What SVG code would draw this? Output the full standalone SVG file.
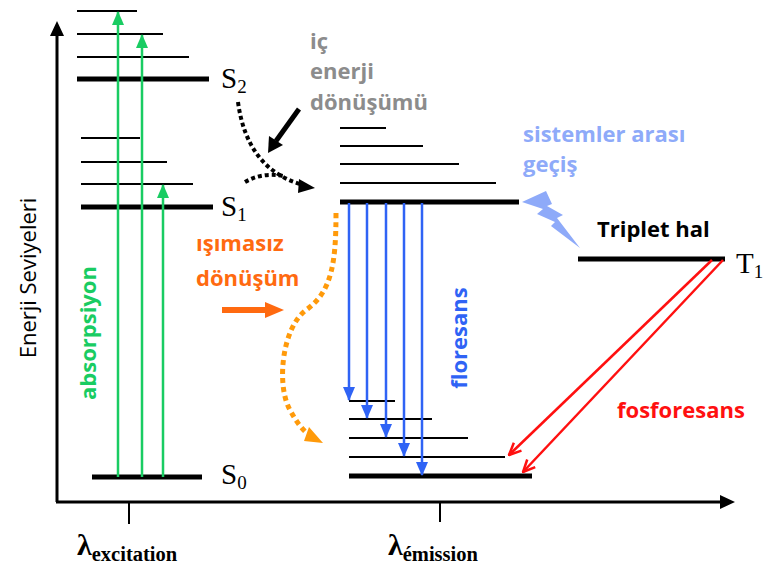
<svg xmlns="http://www.w3.org/2000/svg" width="765" height="569" viewBox="0 0 765 569">
  <style>
    .lv { stroke: #000; stroke-width: 2; }
    .lvb { stroke: #000; stroke-width: 5; }
    .ax { stroke: #000; stroke-width: 3; fill: none; }
    .serif { font-family: "Liberation Serif", "Times New Roman", serif; fill: #000; }
    .lbl { font-family: "Open Sans", "DejaVu Sans", sans-serif; font-weight: bold; font-size: 22px; }
    .green { stroke: #19cc62; stroke-width: 2.5; fill: none; }
    .blue { stroke: #2f63f5; stroke-width: 2.5; fill: none; }
    .red { stroke: #ff1010; stroke-width: 2.5; fill: none; }
  </style>
  <defs>
    <marker id="mGreen" markerUnits="userSpaceOnUse" markerWidth="14" markerHeight="14" viewBox="0 0 14 14" refX="13" refY="7" orient="auto">
      <path d="M0,1 L14,7 L0,13 Z" fill="#19cc62"/>
    </marker>
    <marker id="mBlue" markerUnits="userSpaceOnUse" markerWidth="14" markerHeight="14" viewBox="0 0 14 14" refX="13" refY="7" orient="auto">
      <path d="M0,1 L14,7 L0,13 Z" fill="#2f63f5"/>
    </marker>
    <marker id="mRed" markerUnits="userSpaceOnUse" markerWidth="14" markerHeight="14" viewBox="0 0 14 14" refX="13" refY="7" orient="auto">
      <path d="M1,1.5 L13,7 L1,12.5" fill="none" stroke="#ff1010" stroke-width="2.5"/>
    </marker>
  </defs>

  <!-- axes -->
  <g id="axes">
    <line class="ax" x1="57" y1="502" x2="57" y2="34"/>
    <path d="M50,36 L57,21 L64,36 Z" fill="#000"/>
    <line class="ax" x1="56" y1="502" x2="722" y2="502"/>
    <path d="M720,495 L735,502 L720,509 Z" fill="#000"/>
    <line x1="129" y1="502" x2="129" y2="524" stroke="#000" stroke-width="2"/>
    <line x1="440" y1="502" x2="440" y2="522" stroke="#000" stroke-width="2"/>
    <text class="serif" x="77" y="555" font-size="30" font-weight="bold">λ<tspan font-size="20.5" dy="6">excitation</tspan></text>
    <text class="serif" x="388" y="555" font-size="30" font-weight="bold">λ<tspan font-size="20.5" dy="6">émission</tspan></text>
    <text x="27" y="278" transform="rotate(-90 27 278)" text-anchor="middle" dominant-baseline="central" font-family="'Open Sans', 'DejaVu Sans', sans-serif" font-size="22" fill="#000">Enerji Seviyeleri</text>
  </g>

  <!-- S2 manifold -->
  <g id="S2">
    <line class="lv" x1="77" y1="11" x2="137" y2="11"/>
    <line class="lv" x1="77" y1="34" x2="163" y2="34"/>
    <line class="lv" x1="77" y1="57" x2="189" y2="57"/>
    <line class="lvb" x1="77" y1="79" x2="209" y2="79"/>
    <text class="serif" x="221" y="88" font-size="29">S<tspan font-size="19" dy="5">2</tspan></text>
  </g>

  <!-- S1 manifold -->
  <g id="S1">
    <line class="lv" x1="81" y1="138" x2="140" y2="138"/>
    <line class="lv" x1="81" y1="162" x2="167" y2="162"/>
    <line class="lv" x1="81" y1="184" x2="193" y2="184"/>
    <line class="lvb" x1="81" y1="207" x2="213" y2="207"/>
    <text class="serif" x="221" y="216" font-size="29">S<tspan font-size="19" dy="5">1</tspan></text>
  </g>

  <!-- S0 ground state -->
  <g id="S0">
    <line class="lvb" x1="92" y1="477" x2="202" y2="477"/>
    <text class="serif" x="221" y="484" font-size="29">S<tspan font-size="19" dy="5">0</tspan></text>
  </g>

  <!-- emitting S1 manifold -->
  <g id="S1-emission">
    <line class="lv" x1="340" y1="128" x2="386" y2="128"/>
    <line class="lv" x1="340" y1="146" x2="423" y2="146"/>
    <line class="lv" x1="340" y1="164" x2="459" y2="164"/>
    <line class="lv" x1="340" y1="183" x2="496" y2="183"/>
    <line class="lvb" x1="340" y1="202" x2="519" y2="202"/>
  </g>

  <!-- S0 vibrational levels, emission side -->
  <g id="S0-emission">
    <line class="lv" x1="349" y1="401" x2="395" y2="401"/>
    <line class="lv" x1="349" y1="419" x2="432" y2="419"/>
    <line class="lv" x1="349" y1="438" x2="468" y2="438"/>
    <line class="lv" x1="349" y1="457" x2="505" y2="457"/>
    <line class="lvb" x1="349" y1="476" x2="532" y2="476"/>
  </g>

  <!-- triplet state -->
  <g id="T1">
    <line class="lvb" x1="578" y1="259" x2="725" y2="259"/>
    <text class="serif" x="736" y="273" font-size="29">T<tspan font-size="19" dy="5">1</tspan></text>
    <text class="lbl" x="597" y="237" fill="#000">Triplet hal</text>
  </g>

  <!-- transitions -->
  <g id="connectors">
    <!-- absorption -->
    <line class="green" x1="118" y1="477" x2="118" y2="12" marker-end="url(#mGreen)"/>
    <line class="green" x1="142" y1="477" x2="142" y2="35" marker-end="url(#mGreen)"/>
    <line class="green" x1="163" y1="477" x2="163" y2="185" marker-end="url(#mGreen)"/>

    <!-- fluorescence -->
    <line class="blue" x1="349" y1="203" x2="349" y2="400" marker-end="url(#mBlue)"/>
    <line class="blue" x1="367" y1="203" x2="367" y2="418" marker-end="url(#mBlue)"/>
    <line class="blue" x1="386" y1="203" x2="386" y2="437" marker-end="url(#mBlue)"/>
    <line class="blue" x1="404" y1="203" x2="404" y2="456" marker-end="url(#mBlue)"/>
    <line class="blue" x1="422" y1="203" x2="422" y2="475" marker-end="url(#mBlue)"/>

    <!-- phosphorescence -->
    <line class="red" x1="712" y1="260" x2="509" y2="455" marker-end="url(#mRed)"/>
    <line class="red" x1="723" y1="260" x2="523" y2="472" marker-end="url(#mRed)"/>

    <!-- internal conversion -->
    <path d="M238,102 Q247,168 300,184" stroke="#000" stroke-width="4" stroke-dasharray="4 3" fill="none"/>
    <path d="M299,179 L315,188 L298,193 Z" fill="#000"/>
    <path d="M245,182 Q262,172 283,176" stroke="#000" stroke-width="4" stroke-dasharray="4 3" fill="none"/>
    <line x1="299" y1="109" x2="276" y2="141" stroke="#000" stroke-width="5"/>
    <path d="M269,136 L268,153 L283,145 Z" fill="#000"/>

    <!-- non-radiative relaxation -->
    <path d="M336,213 C336,262 332,292 306,310 C282,328 276,385 290,410 C297,423 303,430 308,434" stroke="#ff9a0a" stroke-width="5" stroke-dasharray="5 4" fill="none"/>
    <path d="M309,427 L323,443 L304,441 Z" fill="#ff9a0a"/>
    <line x1="222" y1="310" x2="268" y2="310" stroke="#ff6a10" stroke-width="6"/>
    <path d="M265,302 L284,310 L265,318 Z" fill="#ff6a10"/>

    <!-- intersystem crossing -->
    <path d="M522,202 L546,191 L552,204 L547,206 L563,215 L557,218 L580,248 L551,226 L555,222 L537,214 L543,209 Z" fill="#8eaaf9"/>
  </g>

  <!-- process labels -->
  <g id="labels">
    <text class="lbl" x="310" y="49" fill="#8c8c8c">iç</text>
    <text class="lbl" x="310" y="79" fill="#8c8c8c">enerji</text>
    <text class="lbl" x="310" y="110" fill="#8c8c8c">dönüşümü</text>
    <text class="lbl" x="523" y="142" fill="#8eaaf9">sistemler arası</text>
    <text class="lbl" x="523" y="172" fill="#8eaaf9">geçiş</text>
    <text class="lbl" x="196" y="251" fill="#ff6a10">ışımasız</text>
    <text class="lbl" x="196" y="286" fill="#ff6a10">dönüşüm</text>
    <text class="lbl" x="617" y="418" fill="#ff1010" font-size="23">fosforesans</text>
    <text class="lbl" x="458" y="338" transform="rotate(-90 458 338)" text-anchor="middle" dominant-baseline="central" fill="#2f63f5" font-size="22.5">floresans</text>
    <text class="lbl" x="87" y="333" transform="rotate(-90 87 333)" text-anchor="middle" dominant-baseline="central" fill="#19cc62" font-size="22.5">absorpsiyon</text>
  </g>
</svg>
